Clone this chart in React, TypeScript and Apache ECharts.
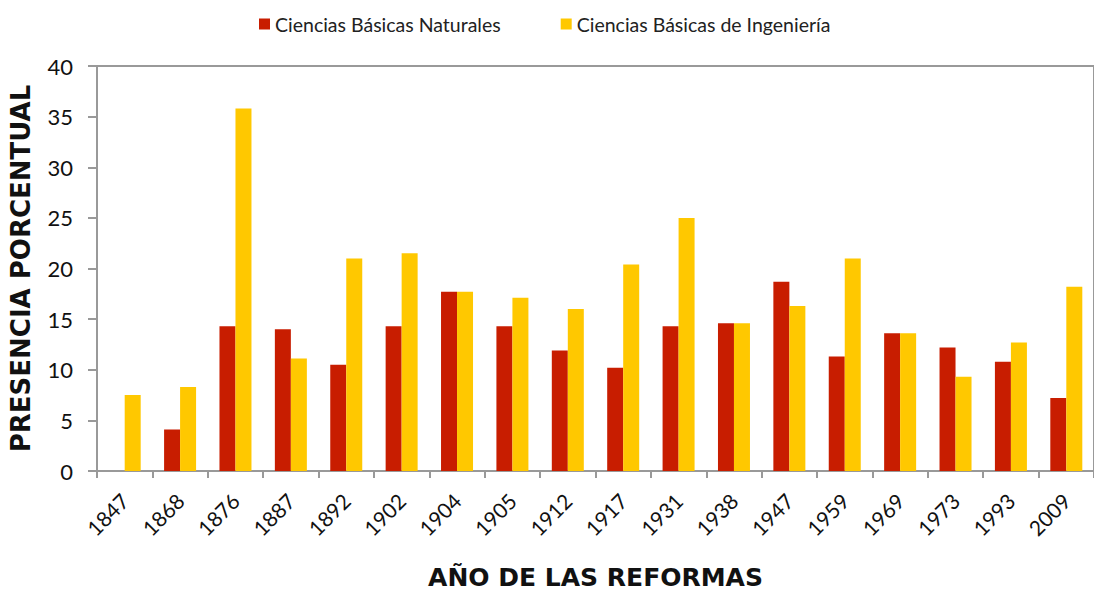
import React, { useEffect, useRef } from "react";
import * as echarts from "echarts";

const years = ["1847", "1868", "1876", "1887", "1892", "1902", "1904", "1905", "1912", "1917", "1931", "1938", "1947", "1959", "1969", "1973", "1993", "2009"];
const naturales = [0, 4.1, 14.3, 14.0, 10.5, 14.3, 17.7, 14.3, 11.9, 10.2, 14.3, 14.6, 18.7, 11.3, 13.6, 12.2, 10.8, 7.2];
const ingenieria = [7.5, 8.3, 35.8, 11.1, 21.0, 21.5, 17.7, 17.1, 16.0, 20.4, 25.0, 14.6, 16.3, 21.0, 13.6, 9.3, 12.7, 18.2];
const yTicks = { min: 0, max: 40, interval: 5 };

const FONT = "Lato, 'Open Sans', sans-serif";
const BOLD = "'DejaVu Sans', sans-serif";

export default function App() {
  const ref = useRef<HTMLDivElement>(null);
  useEffect(() => {
    if (!ref.current) return;
    const chart = echarts.init(ref.current, null, { renderer: "svg" });
    chart.setOption({
      animation: false,
      backgroundColor: "#ffffff",
      textStyle: { fontFamily: FONT },
      legend: {
        top: 9,
        left: 254,
        itemWidth: 11,
        itemHeight: 11,
        itemGap: 60,
        icon: "rect",
        textStyle: { fontSize: 19.5, color: "#222", fontFamily: FONT },
        data: ["Ciencias Básicas Naturales", "Ciencias Básicas de Ingeniería"],
      },
      grid: {
        left: 97,
        top: 66,
        width: 1008,
        bottom: 117,
        show: true,
        borderColor: "#999",
        borderWidth: 2,
        backgroundColor: "transparent",
      },
      xAxis: {
        type: "category",
        data: years,
        name: "AÑO DE LAS REFORMAS",
        nameLocation: "middle",
        nameGap: 94,
        nameTextStyle: { fontSize: 25, fontWeight: "bold", color: "#111", fontFamily: BOLD },
        axisLine: { lineStyle: { color: "#999", width: 2 } },
        axisTick: { show: true, length: 7, lineStyle: { color: "#999", width: 2 } },
        axisLabel: { interval: 0, rotate: 45, fontSize: 21, color: "#111", margin: 26, fontFamily: FONT },
      },
      yAxis: {
        type: "value",
        min: yTicks.min,
        max: yTicks.max,
        interval: yTicks.interval,
        name: "PRESENCIA PORCENTUAL",
        nameLocation: "middle",
        nameRotate: 90,
        nameGap: 63,
        nameTextStyle: { fontSize: 26, fontWeight: "bold", color: "#111", fontFamily: BOLD },
        axisLine: { show: true, lineStyle: { color: "#999", width: 2 } },
        axisTick: { show: true, length: 9, lineStyle: { color: "#999", width: 2 } },
        axisLabel: { fontSize: 22, color: "#111", margin: 24, fontFamily: FONT },
        splitLine: { show: false },
      },
      series: [
        {
          name: "Ciencias Básicas Naturales",
          type: "bar",
          data: naturales,
          barWidth: 16,
          barGap: "0%",
          itemStyle: { color: "#C81D00" },
        },
        {
          name: "Ciencias Básicas de Ingeniería",
          type: "bar",
          data: ingenieria,
          barWidth: 16,
          barGap: "0%",
          itemStyle: { color: "#FFC800" },
        },
      ],
    });
    return () => chart.dispose();
  }, []);
  return <div ref={ref} style={{ position: "absolute", left: 0, top: 0, width: 1094, height: 595 }} />;
}
